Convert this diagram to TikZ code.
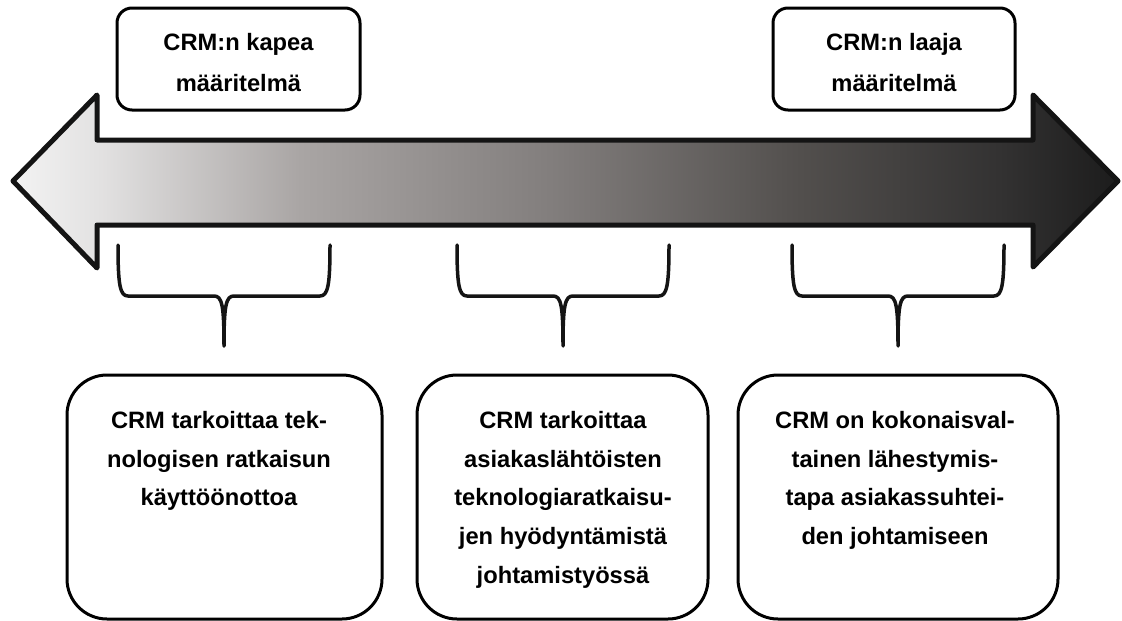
\documentclass[tikz,border=0pt]{standalone}
\usepackage{fontspec}
\setmainfont{Liberation Sans}
\usetikzlibrary{positioning}

% grey ramp of the double arrow, light on the left and dark on the right
\definecolor{g0}{HTML}{F3F3F3}
\definecolor{g1}{HTML}{E2E1E1}
\definecolor{g2}{HTML}{A9A5A4}
\definecolor{g3}{HTML}{827E7D}
\definecolor{g4}{HTML}{524F4D}
\definecolor{g5}{HTML}{333232}
\definecolor{g6}{HTML}{1C1C1C}
\pgfdeclarehorizontalshading{crmgrad}{100bp}{%
  color(0bp)=(g0); color(25bp)=(g0); color(29bp)=(g1); color(38bp)=(g2);
  color(49.3bp)=(g3); color(60.6bp)=(g4); color(69.6bp)=(g5);
  color(75bp)=(g6); color(100bp)=(g6)}

\tikzset{
  lbl/.style={font=\fontsize{23.7}{41}\selectfont\bfseries, align=center, inner sep=0pt},
  lblb/.style={font=\fontsize{23.7}{38.8}\selectfont\bfseries, align=center, inner sep=0pt},
  topbox/.style={draw=black, line width=3pt, rounded corners=15pt, fill=white},
  botbox/.style={draw=black, line width=3pt, rounded corners=40pt, fill=white},
  bracestyle/.style={draw=black!92, line width=3.5pt, line cap=round, line join=round},
  crmbrace/.pic={
    \draw[bracestyle] (-106,0) .. controls (-106,40) and (-104,51) .. (-96,51)
      -- (-10,51) .. controls (-2,51) and (0,60) .. (0,101)
      .. controls (0,60) and (2,51) .. (10,51)
      -- (96,51) .. controls (104,51) and (106,40) .. (106,0);
  }
}

\begin{document}
\begin{tikzpicture}[x=1pt, y=-1pt]
\useasboundingbox (0,0) rectangle (1122,621);

% double-headed arrow
\draw[line width=5pt, line join=round, shading=crmgrad, draw=black!92]
  (13,181) -- (97,95) -- (97,140) -- (1033,140) -- (1033,95) -- (1118,181)
  -- (1033,267) -- (1033,225) -- (97,225) -- (97,268) -- cycle;

% the two ends of the scale
\draw[topbox] (117,8) rectangle (360,110);
\node[lbl, anchor=north] (narrow) at (238.5,33) {CRM:n kapea\\määritelmä};
\draw[topbox] (773,8) rectangle (1015,110);
\node[lbl, anchor=north] (broad) at (894,33) {CRM:n laaja\\määritelmä};

% braces below the arrow
\pic at (224,245) {crmbrace};
\pic at (563,245) {crmbrace};
\pic at (898,245) {crmbrace};

% definitions
\draw[botbox] (67,375) rectangle (382,619);
\node[lblb, anchor=north] (tech) at (219,411)
  {CRM tarkoittaa tek-\\nologisen ratkaisun\\käyttöönottoa};
\draw[botbox] (417,375) rectangle (708,619);
\node[lblb, anchor=north] (mgmt) at (563,411)
  {CRM tarkoittaa\\asiakaslähtöisten\\teknologiaratkaisu-\\jen hyödyntämistä\\johtamistyössä};
\draw[botbox] (738,375) rectangle (1058,619);
\node[lblb, anchor=north] (whole) at (895,411)
  {CRM on kokonaisval-\\tainen lähestymis-\\tapa asiakassuhtei-\\den johtamiseen};
\end{tikzpicture}
\end{document}
